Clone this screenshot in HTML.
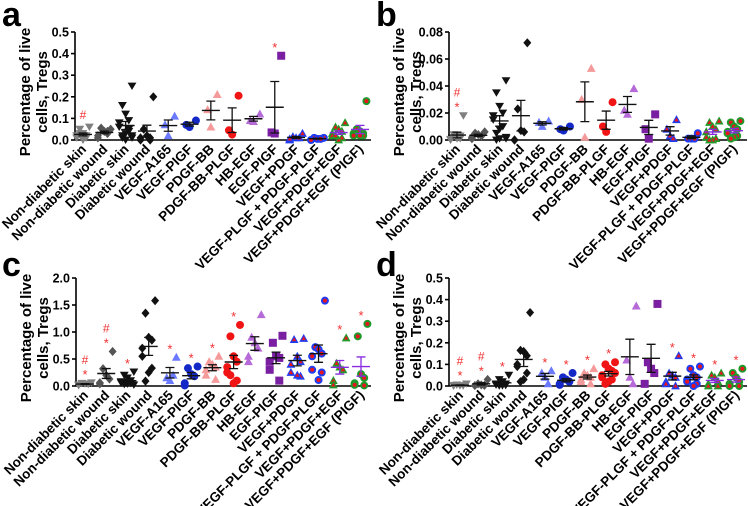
<!DOCTYPE html>
<html><head><meta charset="utf-8"><style>
html,body{margin:0;padding:0;background:#fff;}
svg{display:block;font-family:"Liberation Sans",sans-serif;font-weight:bold;}
</style></head><body>
<svg id="chart" width="748" height="506" viewBox="0 0 748 506" xmlns="http://www.w3.org/2000/svg"></svg>
<script>
const categories = ["Non-diabetic skin","Non-diabetic wound","Diabetic skin","Diabetic wound","VEGF-A165","VEGF-PIGF","PDGF-BB","PDGF-BB-PLGF","HB-EGF","EGF-PIGF","VEGF+PDGF","VEGF-PLGF + PDGF-PLGF","VEGF+PDGF+EGF","VEGF+PDGF+EGF (PIGF)"];
const ticksA = [0,0.1,0.2,0.3,0.4,0.5];
const ticksB = [0,0.02,0.04,0.06,0.08];
const ticksC = [0,0.5,1.0,1.5,2.0];
const ticksD = [0,0.1,0.2,0.3,0.4,0.5];
const valuesA = [[0.06,0.05,0.03,0.02,0.02,0.01,0.01,0.0,0.03],[0.05,0.055,0.04,0.03,0.02,0.01,0.04],[0.25,0.16,0.12,0.09,0.08,0.06,0.04,0.03,0.02,0.02,0.01,0.01,0.0,0.05],[0.2,0.05,0.02,0.01,0.01,0.0,0.0],[0.11,0.07,0.02],[0.09,0.07,0.06],[0.21,0.14,0.06],[0.205,0.045,0.025],[0.12,0.09,0.085],[0.39,0.035,0.03],[0.03,0.015,0.01,0.01,0.0,0.005],[0.01,0.01,0.005,0.005,0.0],[0.08,0.06,0.05,0.04,0.03,0.02,0.01,0.0,0.02],[0.18,0.05,0.04,0.03,0.03,0.02,0.02,0.02]];
const valuesB = [[0.018,0.004,0.002,0.001,0.0005,0.0,0.003,0.001],[0.006,0.005,0.004,0.003,0.002,0.001],[0.044,0.035,0.025,0.02,0.018,0.015,0.01,0.008,0.005,0.002,0.001,0.0,0.001],[0.072,0.023,0.007,0.006,0.0,0.0],[0.014,0.013,0.01],[0.01,0.008,0.007],[0.053,0.03,0.002],[0.028,0.01,0.006],[0.038,0.022,0.019],[0.019,0.008,0.001],[0.015,0.008,0.003,0.001],[0.005,0.001,0.001,0.001],[0.014,0.013,0.01,0.008,0.006,0.002,0.001,0.0,0.0],[0.014,0.013,0.01,0.008,0.006,0.005,0.003,0.002,0.001]];
const valuesC = [[0.06,0.05,0.04,0.03,0.02,0.01],[0.64,0.32,0.2,0.13,0.06,0.04],[0.26,0.2,0.15,0.1,0.08,0.06,0.05,0.04,0.03,0.02],[1.58,1.35,0.9,0.85,0.7,0.55,0.33,0.25,0.09],[0.53,0.15,0.1,0.2],[0.36,0.33,0.22,0.18,0.05,0.01],[0.55,0.45,0.4,0.35,0.3,0.2,0.12],[1.13,0.92,0.55,0.45,0.35,0.25,0.1,0.05,0.2],[1.32,0.9,0.8,0.7,0.55,0.45],[0.93,0.8,0.55,0.52,0.45,0.3,0.1],[0.88,0.86,0.55,0.45,0.4,0.25,0.18,0.2],[1.58,0.72,0.68,0.6,0.55,0.3,0.25,0.11],[0.89,0.42,0.35,0.3,0.1,0.02],[1.15,0.92,0.22,0.15,0.05,0.02,0.01]];
const valuesD = [[0.01,0.005,0.002,0.001,0.003,0.0],[0.03,0.01,0.005,0.003,0.002],[0.05,0.03,0.02,0.01,0.01,0.005,0.003,0.002,0.001],[0.34,0.165,0.16,0.14,0.1,0.09,0.06,0.03,0.02],[0.07,0.06,0.04,0.01],[0.06,0.04,0.03,0.02,0.01,0.005,0.02],[0.08,0.06,0.05,0.04,0.03,0.02,0.01],[0.11,0.1,0.08,0.07,0.05,0.04,0.03,0.02,0.01,0.06],[0.37,0.12,0.04,0.01],[0.38,0.11,0.08,0.06,0.01],[0.14,0.06,0.05,0.04,0.02,0.01,0.0],[0.09,0.08,0.05,0.04,0.03,0.02,0.01,0.0],[0.06,0.05,0.04,0.02,0.01,0.0,0.0],[0.08,0.06,0.04,0.02,0.01,0.0,0.0]];
const annotA = [["#"],[],[],[],[],[],[],[],[],["*"],[],[],[],[]];
const annotB = [["#","*"],[],[],[],[],[],[],[],[],[],[],[],[],[]];
const annotC = [["#","*"],["#","*"],["*"],[],["*"],["*"],["*"],["*"],[],[],[],[],["*"],["*"]];
const annotD = [["#","*"],["#","*"],["*"],[],["*"],["*"],["*"],["*"],[],[],["*"],["*"],["*"],["*"]];

const styles = [
 {s:"tdown",f:"#808080"},{s:"diamond",f:"#555"},{s:"tdown",f:"#111"},{s:"diamond",f:"#111"},
 {s:"tri",f:"#6b79ff"},{s:"circ",f:"#1428c8"},{s:"tri",f:"#f59a9a"},{s:"circ",f:"#f01414"},
 {s:"tri",f:"#b56ad8"},{s:"sq",f:"#7b1fa2"},{s:"tri",f:"#1e3cf0",i:"#e8141e"},
 {s:"circ",f:"#1e3cf0",i:"#e8141e"},{s:"tri",f:"#1e9a2a",i:"#e8141e"},{s:"circ",f:"#1e9a2a",i:"#e8141e"}];

const NS="http://www.w3.org/2000/svg";
const svg=document.getElementById('chart');
function el(tag,attrs,parent){const e=document.createElementNS(NS,tag);for(const k in attrs)e.setAttribute(k,attrs[k]);(parent||svg).appendChild(e);return e;}

const panels=[
 {id:"a",vals:valuesA,ann:annotA,ticks:ticksA,dec:1,ax:75,y0:140,yt:32,c0:83,cN:360,lx:2,ly:26,end:371},
 {id:"b",vals:valuesB,ann:annotB,ticks:ticksB,dec:2,ax:449,y0:140,yt:32,c0:457,cN:734,lx:376,ly:26,end:747},
 {id:"c",vals:valuesC,ann:annotC,ticks:ticksC,dec:1,ax:76,y0:386,yt:278,c0:85,cN:361,lx:2,ly:276,end:371},
 {id:"d",vals:valuesD,ann:annotD,ticks:ticksD,dec:1,ax:449,y0:386,yt:278,c0:460,cN:736,lx:376,ly:276,end:747}];

function marker(g,st,x,y){
 const r=4;let m;
 if(st.s==="circ"){m=el("circle",{cx:x,cy:y,r:r,fill:st.f},g);}
 else if(st.s==="sq"){m=el("rect",{x:x-r,y:y-r,width:2*r,height:2*r,fill:st.f},g);}
 else if(st.s==="tri"){m=el("polygon",{points:`${x},${y-r-0.6} ${x-r-0.4},${y+r-0.6} ${x+r+0.4},${y+r-0.6}`,fill:st.f},g);}
 else if(st.s==="tdown"){m=el("polygon",{points:`${x},${y+r} ${x-r-0.4},${y-r+0.6} ${x+r+0.4},${y-r+0.6}`,fill:st.f},g);}
 else {m=el("polygon",{points:`${x},${y-r-0.6} ${x+r},${y} ${x},${y+r+0.6} ${x-r},${y}`,fill:st.f},g);}
 
 
 if(st.i){
  let inner;
  if(st.s==="circ") inner=el("circle",{cx:x,cy:y,r:2,fill:st.i},g);
  else inner=el("polygon",{points:`${x},${y-2.2} ${x-2.2},${y+1.6} ${x+2.2},${y+1.6}`,fill:st.i},g);
  
  
 }
}

panels.forEach(p=>{
 const g=el("g",{});
 
 
 const ymax=p.ticks[p.ticks.length-1];
 const yS=v=>p.y0-(v/ymax)*(p.y0-p.yt);
 const step=(p.cN-p.c0)/(categories.length-1);
 const xS=i=>p.c0+i*step;
 const lab=el("text",{x:p.lx,y:p.ly,"font-size":34,fill:"#000"},g);lab.textContent=p.id;
 
 
 const cy=(p.y0+p.yt)/2+6;
 const t=el("text",{transform:`translate(${p.ax-45},${cy}) rotate(-90)`,"text-anchor":"middle","font-size":15,fill:"#000"},g);
 
 
 const t1=el("tspan",{x:0,y:0},t);t1.textContent="Percentage of live";
 const t2=el("tspan",{x:0,y:17},t);t2.textContent="cells, Tregs";
 const ya=el("line",{x1:p.ax,y1:p.yt,x2:p.ax,y2:p.y0,stroke:"#000","stroke-width":1.6},g);
 
 
 const xa=el("line",{x1:p.ax,y1:p.y0,x2:p.end,y2:p.y0,stroke:"#000","stroke-width":1.6},g);
 
 
 p.ticks.forEach(tv=>{
  const y=yS(tv);
  const tk=el("line",{x1:p.ax-4,y1:y,x2:p.ax,y2:y,stroke:"#000","stroke-width":1.6},g);
  
  
  const tl=el("text",{x:p.ax-6,y:y+4.5,"text-anchor":"end","font-size":12.5,fill:"#000"},g);
  tl.textContent=tv.toFixed(p.dec);
  
  
 });
 categories.forEach((c,i)=>{
  const x=xS(i);
  const xl=el("text",{transform:`translate(${x+4},${p.y0+10}) rotate(-45)`,"text-anchor":"end","font-size":13.5,fill:"#000"},g);
  xl.textContent=c;
  
  
  const vals=p.vals[i];const st=styles[i];
  vals.forEach((v,k)=>{
   const off=((k%5)-2)*3.2*(k%2?1:-1);
   marker(g,st,x+off,yS(v));
  });
  const n=vals.length;const mean=vals.reduce((a,b)=>a+b,0)/n;
  const sd=Math.sqrt(vals.reduce((a,b)=>a+(b-mean)*(b-mean),0)/Math.max(1,n-1));
  const sem=sd/Math.sqrt(n);
  const lc=(i>=12)?"#8a2be2":"#111";
  const ml=el("line",{x1:x-9,y1:yS(mean),x2:x+9,y2:yS(mean),stroke:lc,"stroke-width":1.4},g);
  
  
  const eb=el("path",{d:`M${x},${yS(mean-sem)}V${yS(mean+sem)}M${x-4.5},${yS(mean+sem)}H${x+4.5}M${x-4.5},${yS(mean-sem)}H${x+4.5}`,stroke:lc,"stroke-width":1.3,fill:"none"},g);
  
  
  const top=Math.max(...vals);
  p.ann[i].forEach((a,k)=>{
   const m=p.ann[i].length;
   const at=el("text",{x:x,y:yS(top)-8-(m-1-k)*11+(a==="*"?4:0),"text-anchor":"middle","font-size":a==="*"?13:12,"font-weight":"normal",fill:"#f03030"},g);
   at.textContent=a;
   
   
  });
 });
});
</script>
</body></html>
